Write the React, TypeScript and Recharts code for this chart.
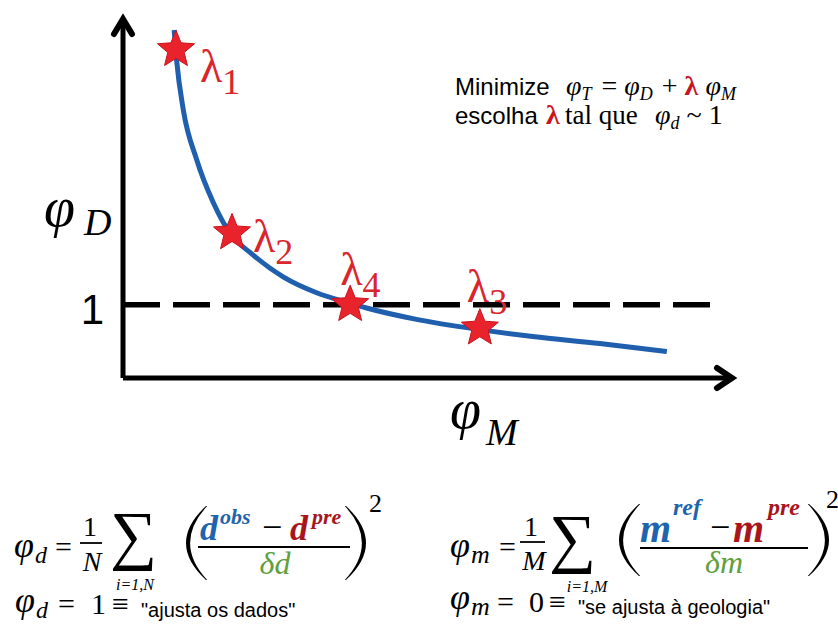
import React from 'react';
import { ComposedChart, Line, Scatter, XAxis, YAxis, ReferenceLine } from 'recharts';

// L-curve (phi_M on x, phi_D on y), abstract units
const curvePhiM = [0.84, 0.88, 0.99, 1.21, 1.48, 1.78, 2.09, 2.63, 3.19, 3.73, 4.0, 4.82, 5.86, 6.73, 7.83, 8.93];
const curvePhiD = [4.75, 4.34, 3.66, 2.98, 2.4, 1.95, 1.71, 1.38, 1.16, 1.02, 0.955, 0.8, 0.66, 0.565, 0.47, 0.36];

// lambda stars
const starLabels = ['1', '2', '4', '3'];
const starPhiM = [0.87, 1.79, 3.73, 5.86];
const starPhiD = [4.48, 1.98, 1.0, 0.68];

// target misfit line
const targetPhiD = 1;
const targetEndPhiM = 9.72;
const yTicks = [1];

const curveData = curvePhiM.map((x, i) => ({ x, y: curvePhiD[i] }));
const starData = starPhiM.map((x, i) => ({ x, y: starPhiD[i], label: starLabels[i] }));

const SERIF = "'Liberation Serif', 'DejaVu Serif', serif";
const SANS = "'Liberation Sans', Arial, sans-serif";
const RED = '#d8262c';
const BLUE = '#1f64ac';
const DRED = '#a8161d';
const GREEN = '#5fa03c';

const labelOffset: Record<string, [number, number]> = {
  '1': [24, 32],
  '2': [21, 19],
  '4': [-10, -20],
  '3': [-13, -26],
};

const StarShape = (props: any) => {
  const { cx, cy, payload } = props;
  const R = 19.5;
  const r = 8.6;
  const pts: string[] = [];
  for (let i = 0; i < 10; i++) {
    const rad = i % 2 === 0 ? R : r;
    const a = -Math.PI / 2 + (i * Math.PI) / 5;
    pts.push(`${cx + rad * Math.cos(a)},${cy + rad * Math.sin(a)}`);
  }
  const [dx, dy] = labelOffset[payload.label] || [20, 20];
  return (
    <g>
      <polygon points={pts.join(' ')} fill="#e8232b" stroke="#c8141c" strokeWidth={1} />
      <text x={cx + dx} y={cy + dy} fill={RED} fontFamily={SERIF} fontSize={46}>
        λ
        <tspan fontSize={36} dy={12}>
          {payload.label}
        </tspan>
      </text>
    </g>
  );
};

const Markers = () => (
  <svg width={0} height={0} style={{ position: 'absolute', left: 0, top: 0 }}>
    <defs>
      <marker id="arrowUp" viewBox="0 0 40 40" refX={20} refY={10} markerWidth={40} markerHeight={40} markerUnits="userSpaceOnUse" orient="0" overflow="visible">
        <path d="M 11 25 L 20 10 L 29 25" fill="none" stroke="#000" strokeWidth={6} strokeLinejoin="miter" strokeLinecap="round" />
      </marker>
      <marker id="arrowRight" viewBox="0 0 40 40" refX={30} refY={20} markerWidth={40} markerHeight={40} markerUnits="userSpaceOnUse" orient="0" overflow="visible">
        <path d="M 15 10 L 30 20 L 15 30" fill="none" stroke="#000" strokeWidth={6} strokeLinejoin="miter" strokeLinecap="round" />
      </marker>
    </defs>
  </svg>
);

const Sub = ({ children, size = 18, d = 5 }: any) => (
  <tspan fontStyle="italic" fontSize={size} dy={d}>
    {children}
  </tspan>
);

// thin bracket shapes for the formulas
const Paren = ({ x, top, bot, left }: { x: number; top: number; bot: number; left: boolean }) => {
  const mid = (top + bot) / 2;
  const w = 20;
  if (left) {
    const tip = x + w;
    const c = 2 * x - tip;
    return <path d={`M ${tip} ${top} Q ${c} ${mid} ${tip} ${bot} L ${tip + 1.2} ${bot} Q ${c + 7} ${mid} ${tip + 1.2} ${top} Z`} fill="#000" />;
  }
  const tip = x - w;
  const c = 2 * x - tip;
  return <path d={`M ${tip} ${top} Q ${c} ${mid} ${tip} ${bot} L ${tip - 1.2} ${bot} Q ${c - 7} ${mid} ${tip - 1.2} ${top} Z`} fill="#000" />;
};

const Overlay = () => (
  <svg width={838} height={627} style={{ position: 'absolute', left: 0, top: 0, pointerEvents: 'none' }}>
    {/* axis labels */}
    <text x={44} y={226} fontFamily={SERIF} fontSize={56} fontStyle="italic">φ</text>
    <text x={84} y={235} fontFamily={SERIF} fontSize={38} fontStyle="italic">D</text>
    <text x={450} y={428} fontFamily={SERIF} fontSize={56} fontStyle="italic">φ</text>
    <text x={486} y={445} fontFamily={SERIF} fontSize={38} fontStyle="italic">M</text>

    {/* annotation */}
    <text x={455} y={95} fontFamily={SANS} fontSize={24}>Minimize</text>
    <text x={566} y={95} fontFamily={SERIF} fontSize={28}>
      <tspan fontStyle="italic">φ</tspan>
      <Sub>T</Sub>
      <tspan dy={-5} dx={3}> = </tspan>
      <tspan fontStyle="italic">φ</tspan>
      <Sub>D</Sub>
      <tspan dy={-5} dx={2}> + </tspan>
      <tspan fill="#c8151d" fontWeight="bold">λ</tspan>
      <tspan> </tspan>
      <tspan fontStyle="italic">φ</tspan>
      <Sub>M</Sub>
    </text>
    <text x={455} y={124} fontFamily={SANS} fontSize={24}>escolha</text>
    <text x={546} y={124} fontFamily={SERIF} fontSize={28} fill="#c8151d" fontWeight="bold">λ</text>
    <text x={565} y={124} fontFamily={SERIF} fontSize={27}>tal que</text>
    <text x={655} y={124} fontFamily={SERIF} fontSize={28}>
      <tspan fontStyle="italic">φ</tspan>
      <Sub>d</Sub>
      <tspan dy={-5}> ~ 1</tspan>
    </text>

    {/* left formula */}
    <text x={14} y={557} fontFamily={SERIF} fontSize={36} fontStyle="italic">φ</text>
    <text x={35} y={563} fontFamily={SERIF} fontSize={24} fontStyle="italic">d</text>
    <text x={55} y={557} fontFamily={SERIF} fontSize={30}>=</text>
    <text x={90} y={536} fontFamily={SERIF} fontSize={28} textAnchor="middle">1</text>
    <line x1={80} x2={102} y1={543} y2={543} stroke="#000" strokeWidth={1.8} />
    <text x={92} y={571} fontFamily={SERIF} fontSize={28} fontStyle="italic" textAnchor="middle">N</text>
    <text x={110} y={557} fontFamily={SERIF} fontSize={66}>∑</text>
    <text x={135} y={590} fontFamily={SERIF} fontSize={16} fontStyle="italic" textAnchor="middle">i=1,N</text>
    <Paren x={186} top={506} bot={580} left />
    <text x={200} y={540} fontFamily={SERIF} fontSize={36} fontStyle="italic" fontWeight="bold" fill={BLUE}>d</text>
    <text x={220} y={524} fontFamily={SERIF} fontSize={22} fontStyle="italic" fontWeight="bold" fill={BLUE}>obs</text>
    <text x={262} y={539} fontFamily={SERIF} fontSize={36}>−</text>
    <text x={290} y={540} fontFamily={SERIF} fontSize={36} fontStyle="italic" fontWeight="bold" fill={DRED}>d</text>
    <text x={312} y={524} fontFamily={SERIF} fontSize={22} fontStyle="italic" fontWeight="bold" fill={DRED}>pre</text>
    <line x1={198} x2={350} y1={547} y2={547} stroke="#000" strokeWidth={2} />
    <text x={275} y={574} fontFamily={SERIF} fontSize={32} fontStyle="italic" fill={GREEN} textAnchor="middle">δd</text>
    <Paren x={366} top={506} bot={580} left={false} />
    <text x={369} y={512} fontFamily={SERIF} fontSize={26}>2</text>

    <text x={15} y={612} fontFamily={SERIF} fontSize={36} fontStyle="italic">φ</text>
    <text x={36} y={618} fontFamily={SERIF} fontSize={24} fontStyle="italic">d</text>
    <text x={58} y={614} fontFamily={SERIF} fontSize={30}>=</text>
    <text x={91} y={614} fontFamily={SERIF} fontSize={30}>1</text>
    <text x={112} y={614} fontFamily={SERIF} fontSize={30}>≡</text>
    <text x={141} y={617} fontFamily={SANS} fontSize={20}>"ajusta os dados"</text>

    {/* right formula */}
    <text x={450} y={557} fontFamily={SERIF} fontSize={36} fontStyle="italic">φ</text>
    <text x={471} y={563} fontFamily={SERIF} fontSize={26} fontStyle="italic">m</text>
    <text x={499} y={557} fontFamily={SERIF} fontSize={30}>=</text>
    <text x={531} y={536} fontFamily={SERIF} fontSize={28} textAnchor="middle">1</text>
    <line x1={520} x2={545} y1={542} y2={542} stroke="#000" strokeWidth={1.8} />
    <text x={534} y={570} fontFamily={SERIF} fontSize={28} fontStyle="italic" textAnchor="middle">M</text>
    <text x={549} y={560} fontFamily={SERIF} fontSize={66}>∑</text>
    <text x={587} y={592} fontFamily={SERIF} fontSize={16} fontStyle="italic" textAnchor="middle">i=1,M</text>
    <Paren x={619} top={504} bot={576} left />
    <text x={640} y={542} fontFamily={SERIF} fontSize={40} fontStyle="italic" fontWeight="bold" fill={BLUE}>m</text>
    <text x={673} y={515} fontFamily={SERIF} fontSize={24} fontStyle="italic" fontWeight="bold" fill={BLUE}>ref</text>
    <text x={710} y={539} fontFamily={SERIF} fontSize={36}>−</text>
    <text x={733} y={542} fontFamily={SERIF} fontSize={40} fontStyle="italic" fontWeight="bold" fill={DRED}>m</text>
    <text x={768} y={515} fontFamily={SERIF} fontSize={24} fontStyle="italic" fontWeight="bold" fill={DRED}>pre</text>
    <line x1={640} x2={808} y1={548} y2={548} stroke="#000" strokeWidth={2} />
    <text x={724} y={573} fontFamily={SERIF} fontSize={32} fontStyle="italic" fill={GREEN} textAnchor="middle">δm</text>
    <Paren x={829} top={504} bot={576} left={false} />
    <text x={826} y={508} fontFamily={SERIF} fontSize={26}>2</text>

    <text x={450} y={609} fontFamily={SERIF} fontSize={36} fontStyle="italic">φ</text>
    <text x={471} y={615} fontFamily={SERIF} fontSize={26} fontStyle="italic">m</text>
    <text x={497} y={612} fontFamily={SERIF} fontSize={30}>=</text>
    <text x={529} y={612} fontFamily={SERIF} fontSize={30}>0</text>
    <text x={549} y={612} fontFamily={SERIF} fontSize={30}>≡</text>
    <text x={578} y={614} fontFamily={SANS} fontSize={20}>"se ajusta à geologia"</text>
  </svg>
);

export default function App() {
  return (
    <div style={{ position: 'absolute', left: 0, top: 0, width: 838, height: 627, background: '#fff' }}>
      <Markers />
      <ComposedChart
        width={838}
        height={627}
        margin={{ top: 19, left: 63, right: 106, bottom: 219 }}
      >
        <XAxis
          type="number"
          dataKey="x"
          domain={[0, 10]}
          tick={false}
          tickLine={false}
          axisLine={{ stroke: '#000', strokeWidth: 5, markerEnd: 'url(#arrowRight)' } as any}
          height={30}
          allowDataOverflow
        />
        <YAxis
          type="number"
          dataKey="y"
          domain={[0, 4.9]}
          ticks={yTicks}
          tickLine={false}
          tickSize={0}
          tickMargin={19}
          tick={{ fontSize: 42, fill: '#000', fontFamily: SANS, dy: 4 }}
          axisLine={{ stroke: '#000', strokeWidth: 5, markerStart: 'url(#arrowUp)' } as any}
          width={60}
          allowDataOverflow
        />
        <ReferenceLine
          segment={[
            { x: 0, y: targetPhiD },
            { x: targetEndPhiM, y: targetPhiD },
          ]}
          stroke="#000"
          strokeWidth={5.5}
          strokeDasharray="37 13"
        />
        <Line
          data={curveData}
          dataKey="y"
          type="monotone"
          stroke="#1f5fae"
          strokeWidth={5}
          dot={false}
          isAnimationActive={false}
        />
        <Scatter data={starData} dataKey="y" shape={StarShape} isAnimationActive={false} />
      </ComposedChart>
      <Overlay />
    </div>
  );
}
